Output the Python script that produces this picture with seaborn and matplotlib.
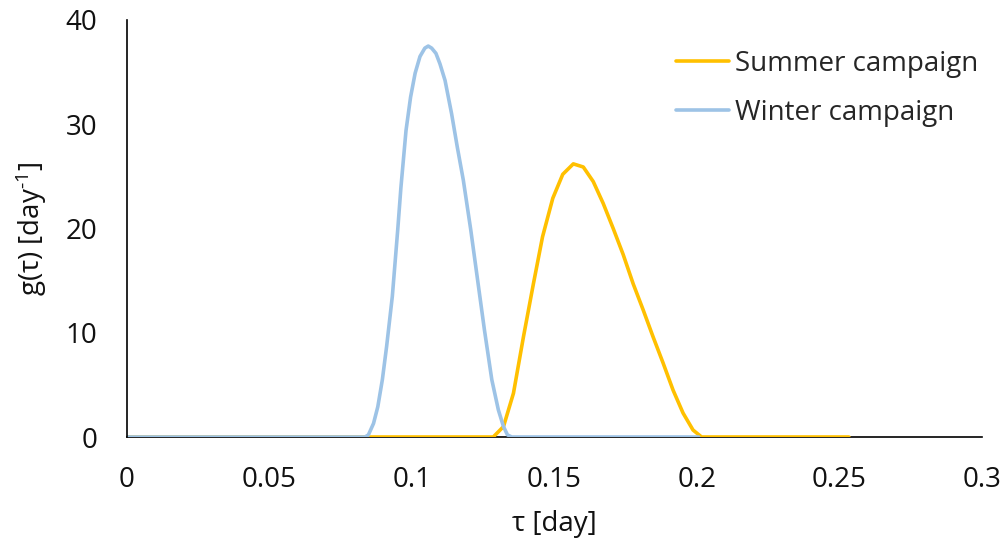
import numpy as np
import pandas as pd
import matplotlib
matplotlib.use("Agg")
import matplotlib.pyplot as plt
import seaborn as sns

# Residence time distribution g(tau) for the two sampling campaigns
summer_tau = [0.0, 0.1285, 0.1321, 0.1356, 0.1391, 0.1426, 0.1458, 0.1494,
              0.1529, 0.1566, 0.1601, 0.1636, 0.1671, 0.1706, 0.1741, 0.1776,
              0.1811, 0.1846, 0.1881, 0.1916, 0.1951, 0.1986, 0.2016, 0.2533]
summer_g = [0.0, 0.0, 1.0, 4.2, 9.6, 14.7, 19.2, 22.9,
            25.2, 26.2, 25.9, 24.5, 22.4, 20.0, 17.5, 14.7,
            12.2, 9.6, 7.1, 4.5, 2.3, 0.67, 0.0, 0.0]

winter_tau = [0.0, 0.0835, 0.0847, 0.0865, 0.0880, 0.0896, 0.0911, 0.0931, 0.0950,
              0.0961, 0.0979, 0.0995, 0.1011, 0.1028, 0.1045, 0.1057, 0.1069,
              0.1084, 0.1098, 0.1116, 0.1139, 0.1159, 0.1180, 0.1206, 0.1230,
              0.1254, 0.1280, 0.1303, 0.1321, 0.1335, 0.1350, 0.2006]
winter_g = [0.0, 0.0, 0.2, 1.3, 2.9, 5.5, 8.7, 13.5, 19.9,
            23.9, 29.4, 32.6, 34.9, 36.5, 37.3, 37.5, 37.3,
            36.8, 35.8, 34.2, 31.0, 27.8, 24.65, 19.9, 15.1,
            10.3, 5.5, 2.6, 1.0, 0.2, 0.0, 0.0]

campaigns = ["Summer campaign", "Winter campaign"]
colors = ["#FFC000", "#9DC3E6"]

df = pd.concat([
    pd.DataFrame({"tau": summer_tau, "g": summer_g, "campaign": campaigns[0]}),
    pd.DataFrame({"tau": winter_tau, "g": winter_g, "campaign": campaigns[1]}),
], ignore_index=True)

x_ticks = [0, 0.05, 0.1, 0.15, 0.2, 0.25, 0.3]
x_tick_labels = ["0", "0.05", "0.1", "0.15", "0.2", "0.25", "0.3"]
y_ticks = [0, 10, 20, 30, 40]

sns.set_style("white")
plt.rcParams["font.family"] = ["Open Sans", "DejaVu Sans"]
plt.rcParams["mathtext.fontset"] = "custom"
plt.rcParams["mathtext.rm"] = "Open Sans"
plt.rcParams["mathtext.it"] = "Open Sans:italic"

fig = plt.figure(figsize=(10.08, 5.47), dpi=100)
ax = fig.add_axes([127 / 1008, 1 - 437 / 547, (982 - 127) / 1008, (437 - 20) / 547])

sns.lineplot(data=df, x="tau", y="g", hue="campaign", palette=colors,
             hue_order=campaigns, linewidth=2.6, sort=False, estimator=None,
             ax=ax, legend=True)

ax.set_xlim(0, 0.3)
ax.set_ylim(0, 40)
ax.set_xticks(x_ticks)
ax.set_xticklabels(x_tick_labels)
ax.set_yticks(y_ticks)
ax.tick_params(axis="both", labelsize=20, colors="#000000", length=7.2, width=1.2,
               direction="out")
ax.tick_params(axis="x", pad=14)
ax.tick_params(axis="y", pad=14)
ax.tick_params(axis="both", labelcolor="#111111")
for side in ["top", "right"]:
    ax.spines[side].set_visible(False)
for side in ["left", "bottom"]:
    ax.spines[side].set_color("#000000")
    ax.spines[side].set_linewidth(1.2)
ax.spines["bottom"].set_zorder(0)

ax.set_xlabel("τ [day]", fontsize=20, color="#111111", labelpad=11)
ax.set_ylabel(r"g(τ) [day$^{\text{-1}}$]", fontsize=20, color="#111111", labelpad=12)

leg = ax.legend(loc="upper left", bbox_to_anchor=(676 / 1008, 1 - 50 / 547),
                bbox_transform=fig.transFigure, frameon=False,
                fontsize=20, handlelength=1.9, handletextpad=0.22,
                labelspacing=0.76, borderaxespad=0.0, borderpad=0.0)
for line in leg.get_lines():
    line.set_linewidth(2.6)

fig.savefig("out.png", dpi=100)
